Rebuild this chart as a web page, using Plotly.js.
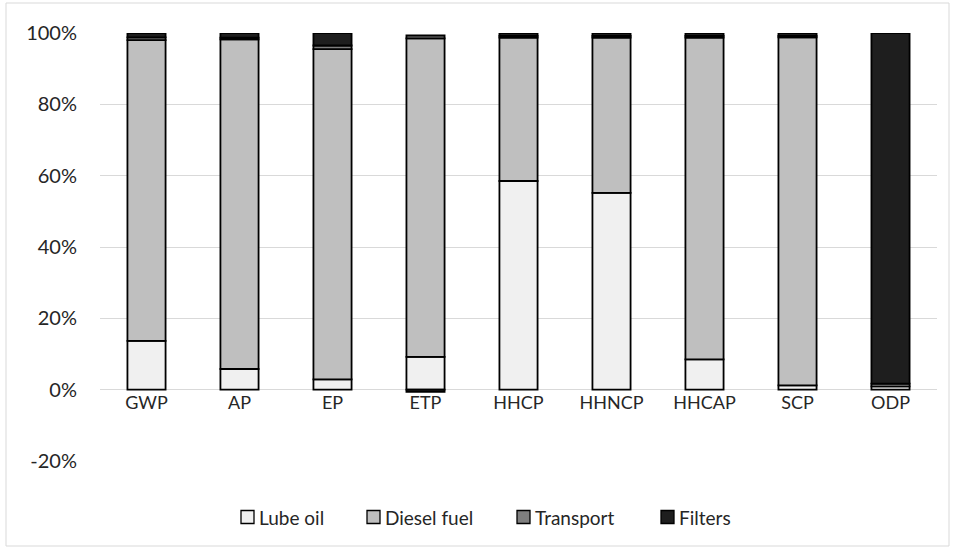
<!DOCTYPE html>
<html>
<head>
<meta charset="utf-8">
<script src="https://cdn.plot.ly/plotly-3.0.1.min.js"></script>
<style>
html,body{margin:0;padding:0;background:#fff;}
#chart{width:957px;height:550px;}
</style>
</head>
<body>
<div id="chart"></div>
<script>
const categories = ["GWP","AP","EP","ETP","HHCP","HHNCP","HHCAP","SCP","ODP"];
const lubeOil    = [0.137, 0.058, 0.029, 0.092, 0.585, 0.552, 0.085, 0.012, 0.009];
const dieselFuel = [0.843, 0.924, 0.926, 0.893, 0.402, 0.435, 0.902, 0.976, 0.008];
const transport  = [0.008, 0.005, 0.010, 0.008, 0.005, 0.005, 0.005, 0.004, 0.000];
const filters    = [0.012, 0.013, 0.035, -0.006, 0.008, 0.008, 0.008, 0.008, 0.983];
const seriesNames = ["Lube oil","Diesel fuel","Transport","Filters"];
const seriesColors = ["#f0f0f0","#bfbfbf","#7f7f7f","#1e1e1e"];
const yTickVals = [-0.2, 0, 0.2, 0.4, 0.6, 0.8, 1.0];
const yTickText = ["-20%","0%","20%","40%","60%","80%","100%"];

const seriesData = [lubeOil, dieselFuel, transport, filters];
const traces = seriesData.map((vals, i) => ({
  type: "bar",
  name: seriesNames[i],
  x: categories,
  y: vals,
  marker: {color: seriesColors[i], line: {color: "#000000", width: 1.8}},
  hoverinfo: "x+y+name"
}));

const fam = "Lato, 'Open Sans', 'Noto Sans', sans-serif";
const txtColor = "#262626";

// plot area in pixels: left 100, right 937, top 33, bottom 461
const L = 100, W = 837, T = 33, H = 428;
const px = x => (x - L) / W;
const py = y => (T + H - y) / H;

// manual legend (Excel style: small square right next to text)
const legendX = [241, 367, 517, 661];
const legendY = 517;
const sq = 13;
const shapes = [{
  type: "rect", xref: "paper", yref: "paper",
  x0: px(6), x1: px(949), y0: py(546), y1: py(3),
  line: {color: "#d9d9d9", width: 1},
  fillcolor: "rgba(0,0,0,0)", layer: "below"
}];
const annotations = [];
seriesNames.forEach((n, i) => {
  shapes.push({
    type: "rect", xref: "paper", yref: "paper",
    x0: px(legendX[i]), x1: px(legendX[i] + sq),
    y0: py(legendY + sq / 2), y1: py(legendY - sq / 2),
    line: {color: "#000000", width: 1.3},
    fillcolor: seriesColors[i]
  });
  annotations.push({
    xref: "paper", yref: "paper",
    x: px(legendX[i] + sq + 3), y: py(legendY),
    xanchor: "left", yanchor: "middle",
    text: n, showarrow: false,
    font: {family: fam, size: 19, color: txtColor}
  });
});

const layout = {
  width: 957, height: 550,
  margin: {l: 100, r: 20, t: 33, b: 89},
  paper_bgcolor: "#ffffff",
  plot_bgcolor: "#ffffff",
  barmode: "relative",
  bargap: 0.59,
  font: {family: fam, size: 18, color: txtColor},
  showlegend: false,
  xaxis: {
    type: "category",
    anchor: "free",
    position: 0.2/1.2,
    showline: false,
    showgrid: false,
    zeroline: false,
    ticks: "",
    tickfont: {family: fam, size: 18, color: txtColor}
  },
  yaxis: {
    range: [-0.2, 1.0],
    tickvals: yTickVals,
    ticktext: yTickText,
    showgrid: true,
    gridcolor: "#d9d9d9",
    gridwidth: 1,
    zeroline: true,
    zerolinecolor: "#d9d9d9",
    zerolinewidth: 1,
    showline: false,
    ticks: "",
    ticklabelstandoff: 22,
    tickfont: {family: fam, size: 20, color: txtColor},
    fixedrange: true
  },
  shapes: shapes,
  annotations: annotations
};

Plotly.newPlot("chart", traces, layout, {displayModeBar: false, staticPlot: true});
</script>
</body>
</html>
